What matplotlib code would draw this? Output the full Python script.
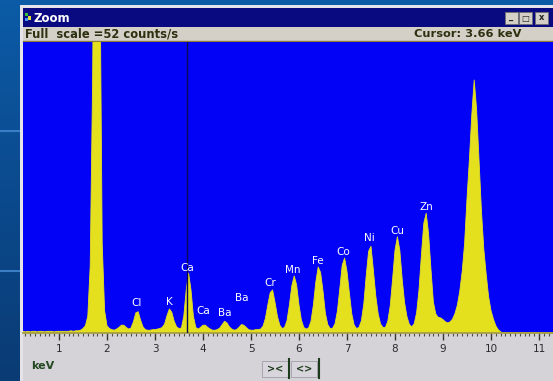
import numpy as np
import matplotlib
matplotlib.use("Agg")
from matplotlib import pyplot as plt
from matplotlib.patches import Rectangle
from matplotlib.colors import LinearSegmentedColormap
from matplotlib.ticker import MultipleLocator

# spectrum: counts per 0.05 keV channel, first channel at 0.25 keV
channel_start = 0.25
channel_width = 0.05
counts = [
    0.3, 0.2, 0.3, 0.2, 0.3, 0.3, 0.2, 0.3, 0.3, 0.2,          # 0.25 - 0.70
    0.3, 0.3, 0.3, 0.2, 0.3, 0.3, 0.3, 0.3, 0.3, 0.3,          # 0.75 - 1.20
    0.4, 0.3, 0.4, 0.4, 0.5, 0.8, 1.3, 3.0, 12.0, 45.0,        # 1.25 - 1.70
    100.0, 120.0, 70.0, 16.0, 4.0, 1.3, 0.8, 0.6, 0.5, 0.7,    # 1.75 - 2.20
    1.0, 1.4, 1.4, 1.0, 0.7, 0.9, 2.0, 3.6, 3.8, 2.3,          # 2.25 - 2.70
    1.1, 0.6, 0.5, 0.5, 0.6, 0.6, 0.7, 0.8, 1.0, 1.6,          # 2.75 - 3.20
    3.1, 4.3, 3.7, 2.1, 1.1, 0.8, 0.9, 3.0, 7.7, 10.7,         # 3.25 - 3.70
    7.7, 3.0, 1.0, 0.7, 1.0, 1.4, 1.4, 1.0, 0.7, 0.5,          # 3.75 - 4.20
    0.5, 0.6, 0.9, 1.5, 2.1, 1.8, 1.1, 0.7, 0.5, 0.6,          # 4.25 - 4.70
    1.0, 1.5, 1.4, 1.0, 0.6, 0.5, 0.5, 0.6, 0.6, 0.7,          # 4.75 - 5.20
    1.2, 2.6, 5.0, 7.2, 7.7, 5.5, 3.0, 1.4, 0.8, 1.0,          # 5.25 - 5.70
    2.2, 5.0, 8.4, 10.2, 8.6, 5.0, 2.3, 1.0, 0.7, 0.9,         # 5.75 - 6.20
    2.1, 5.0, 9.1, 11.8, 10.8, 7.5, 3.5, 1.5, 0.8, 0.85,       # 6.25 - 6.70
    1.65, 3.9, 7.9, 12.1, 13.4, 11.0, 7.1, 3.4, 1.4, 0.8,      # 6.75 - 7.20
    1.0, 2.2, 5.2, 10.2, 14.6, 15.5, 11.2, 6.6, 3.4, 1.6,      # 7.25 - 7.70
    1.0, 1.0, 2.1, 4.8, 9.6, 14.8, 17.2, 14.8, 9.6, 5.4,       # 7.75 - 8.20
    2.9, 1.5, 1.1, 1.65, 3.6, 7.7, 13.9, 19.6, 21.4, 17.7,     # 8.25 - 8.70
    11.3, 5.5, 3.4, 2.8, 2.7, 2.4, 2.0, 1.8, 2.0, 2.5,         # 8.75 - 9.20
    3.5, 5.0, 7.5, 11.0, 16.0, 24.0, 31.0, 39.0, 45.2, 40.0,   # 9.25 - 9.70
    31.0, 22.0, 15.0, 10.5, 6.5, 4.0, 2.5, 1.3, 0.6, 0.2,      # 9.75 - 10.20
    0, 0, 0, 0, 0, 0, 0, 0, 0, 0,                              # 10.25 - 10.70
    0, 0, 0, 0, 0, 0, 0, 0, 0, 0,                              # 10.75 - 11.20
    0, 0,                                                      # 11.25 - 11.30
]

# peak labels
peak_names = ["Cl", "K", "Ca", "Ca", "Ba", "Ba", "Cr", "Mn", "Fe", "Co", "Ni", "Cu", "Zn"]
peak_kev = [2.62, 3.29, 3.67, 4.00, 4.46, 4.81, 5.40, 5.88, 6.40, 6.92, 7.46, 8.04, 8.65]
label_counts = [5.4, 5.5, 11.6, 3.9, 3.6, 6.3, 8.9, 11.3, 12.9, 14.5, 17.0, 18.2, 22.5]

cursor_kev = 3.66
full_scale = 52
kev_ticks = list(range(1, 12))

energy = channel_start + channel_width * np.arange(len(counts))

W, H = 553, 381
fig = plt.figure(figsize=(W / 100, H / 100), dpi=100)

# desktop + window chrome (pixel coords)
bg = fig.add_axes([0, 0, 1, 1])
bg.set_xlim(0, W)
bg.set_ylim(H, 0)
bg.axis("off")
cmap = LinearSegmentedColormap.from_list("desk", ["#0c5ba6", "#0b4a8e", "#0a3b74"])
bg.imshow(np.linspace(0, 1, 100)[:, None], extent=[0, W, H, 0], cmap=cmap, aspect="auto", zorder=0)
for yy in (131, 271):
    bg.plot([0, 20], [yy, yy], color="#3a7ec6", lw=1.5, zorder=1)

bg.add_patch(Rectangle((20, 5), W - 20, H - 5, fc="#e4e4e8", ec="none", zorder=2))
bg.add_patch(Rectangle((23, 8), W - 23, 19, fc="#0a0a80", ec="none", zorder=3))
bg.add_patch(Rectangle((23, 27), W - 23, 14, fc="#d4d0c8", ec="none", zorder=3))
bg.plot([23, W], [40.5, 40.5], color="#8c7c38", lw=1, zorder=4)
bg.add_patch(Rectangle((23, 333), W - 23, H - 333, fc="#d5d2d8", ec="none", zorder=3))

# title bar icon and text
bg.add_patch(Rectangle((25, 13), 3, 3, fc="#30c030", ec="none", zorder=4))
bg.add_patch(Rectangle((28, 16), 3, 4, fc="#e0e040", ec="none", zorder=4))
bg.add_patch(Rectangle((25, 18), 3, 3, fc="#4090ff", ec="none", zorder=4))
bg.text(33, 18, "Zoom", color="white", fontsize=8.5, fontweight="bold", va="center", ha="left", zorder=5)

# window buttons
for bx, sym in ((505, "_"), (519, "□"), (535, "x")):
    bg.add_patch(Rectangle((bx, 12), 13, 12, fc="#d4d0c8", ec="#707070", lw=0.6, zorder=4))
    bg.text(bx + 6.5, 18, sym, color="#202020", fontsize=6, fontweight="bold",
            ha="center", va="center", zorder=5)

# status bar
bg.text(25, 34, "Full  scale =52 counts/s", color="#2c3010", fontsize=8.3, fontweight="bold",
        va="center", ha="left", zorder=5)
bg.text(521, 34, "Cursor: 3.66 keV", color="#2c3010", fontsize=8.2, fontweight="bold",
        va="center", ha="right", zorder=5)

# bottom bar
bg.text(31, 366, "keV", color="#234a23", fontsize=8, fontweight="bold", va="center", ha="left", zorder=5)
for bx, sym in ((262, "><"), (291, "<>")):
    bg.add_patch(Rectangle((bx, 361), 26, 16, fc="#d8d6dc", ec="#a0a0a8", lw=0.6, zorder=4))
    bg.text(bx + 13, 369, sym, color="#1c3a1c", fontsize=7, fontweight="bold",
            ha="center", va="center", zorder=5)
for lx in (289, 319):
    bg.plot([lx, lx], [359, 378], color="#1c3a1c", lw=1.5, zorder=5)

# spectrum axes
ax = fig.add_axes([23 / W, (H - 333) / H, (W - 23) / W, 291 / H])
ax.set_facecolor("#0202f6")
ax.fill_between(energy, counts, color="#e4e01e", lw=0.6, edgecolor="#e4e01e", zorder=2)
ax.axvline(cursor_kev, color="#0a0a50", lw=1, zorder=3)
for name, xk, yc in zip(peak_names, peak_kev, label_counts):
    ax.text(xk, yc, name, color="white", fontsize=7.5, ha="center", va="center", zorder=4)

ax.set_xlim((23 - 11) / 48, (W - 11) / 48)
ax.set_ylim(0, full_scale)
ax.set_yticks([])
ax.set_xticks(kev_ticks)
ax.xaxis.set_minor_locator(MultipleLocator(0.1))
ax.tick_params(axis="x", which="major", length=5, width=1, color="#383830",
               labelsize=7.5, labelcolor="#2a2a2a", pad=3)
ax.tick_params(axis="x", which="minor", length=2.5, width=0.8, color="#505040")
for s in ("top", "left", "right"):
    ax.spines[s].set_visible(False)
ax.spines["bottom"].set_color("#a09a40")
ax.spines["bottom"].set_linewidth(1.2)

fig.savefig("out.png", dpi=100)
